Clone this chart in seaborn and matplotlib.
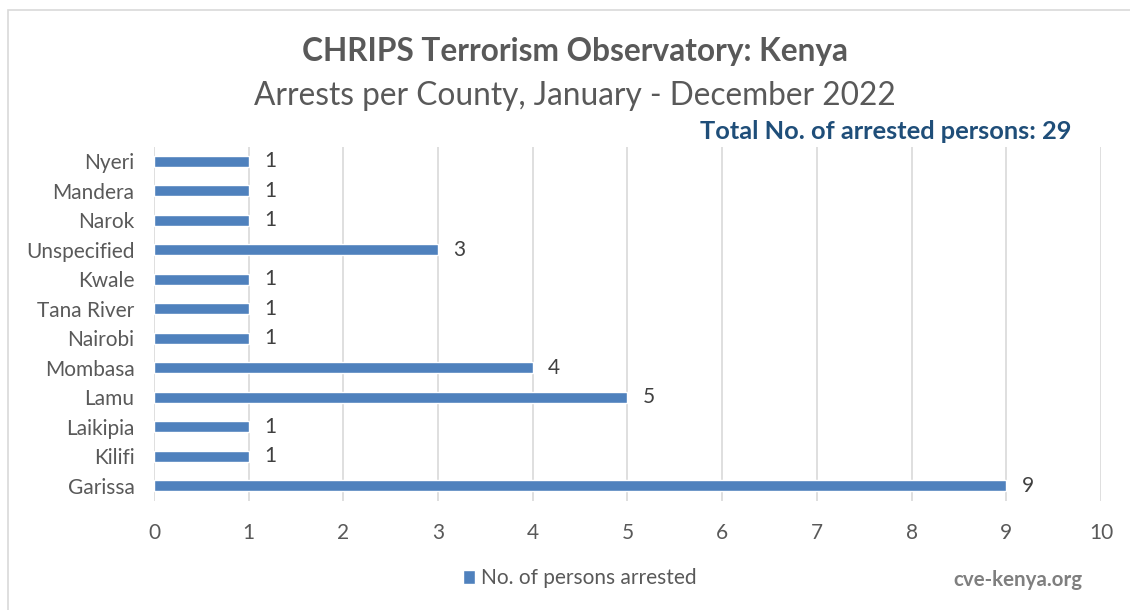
import pandas as pd
import matplotlib.pyplot as plt
import matplotlib.patches as mpatches
import seaborn as sns

# Data (top to bottom)
counties = ["Nyeri", "Mandera", "Narok", "Unspecified", "Kwale", "Tana River",
            "Nairobi", "Mombasa", "Lamu", "Laikipia", "Kilifi", "Garissa"]
arrests = [1, 1, 1, 3, 1, 1, 1, 4, 5, 1, 1, 9]
x_ticks = list(range(0, 11))

df = pd.DataFrame({"County": counties, "Arrests": arrests})

sns.set_style("white")
plt.rcParams['font.family'] = ['Lato', 'DejaVu Sans']

gray = "#595959"
blue = "#4F81BD"

fig = plt.figure(figsize=(11.3, 6.1), dpi=100)
ax = fig.add_axes([0.1363, 0.1795, 0.838, 0.58])

sns.barplot(x="Arrests", y="County", data=df, orient="h", color=blue,
            width=0.37, saturation=1, ax=ax, label="No. of persons arrested")
handles, labels = ax.get_legend_handles_labels()
if ax.get_legend() is not None:
    ax.get_legend().remove()

ax.set_xlim(0, 10)
ax.set_xticks(x_ticks)
ax.grid(axis="x", color="#D9D9D9", linewidth=1.2)
ax.set_axisbelow(True)
for s in ax.spines.values():
    s.set_visible(False)
ax.tick_params(axis="both", length=0, labelsize=15, colors=gray)
ax.tick_params(axis="x", pad=16)
ax.tick_params(axis="y", pad=14)
ax.set_xlabel("")
ax.set_ylabel("")

# value labels
for i, v in enumerate(arrests):
    ax.text(v + 0.16, i, str(v), va="center", ha="left", fontsize=15, color="#404040")

fig.text(0.509, 0.915, "CHRIPS Terrorism Observatory: Kenya", ha="center", va="center",
         fontsize=22.8, fontweight="bold", color=gray)
fig.text(0.509, 0.842, "Arrests per County, January - December 2022", ha="center", va="center",
         fontsize=22.8, color=gray)
fig.text(0.948, 0.785, "Total No. of arrested persons: 29", ha="right", va="center",
         fontsize=18.3, fontweight="bold", color="#1F4E79")
fig.text(0.958, 0.049, "cve-kenya.org", ha="right", va="center",
         fontsize=14.8, fontweight="bold", color="#7F7F7F")

leg = fig.legend(handles, labels, loc="center", bbox_to_anchor=(0.513, 0.052), frameon=False,
                 fontsize=15, handlelength=0.6, handleheight=0.6, handletextpad=0.3)
for t in leg.get_texts():
    t.set_color(gray)

# chart border
fig.patches.append(mpatches.Rectangle((8 / 1130, -0.1), 1.2, 1 - 10 / 610 + 0.1,
                                      transform=fig.transFigure, fill=False,
                                      edgecolor="#D9D9D9", linewidth=1.2))

fig.savefig("out.png", dpi=100)
